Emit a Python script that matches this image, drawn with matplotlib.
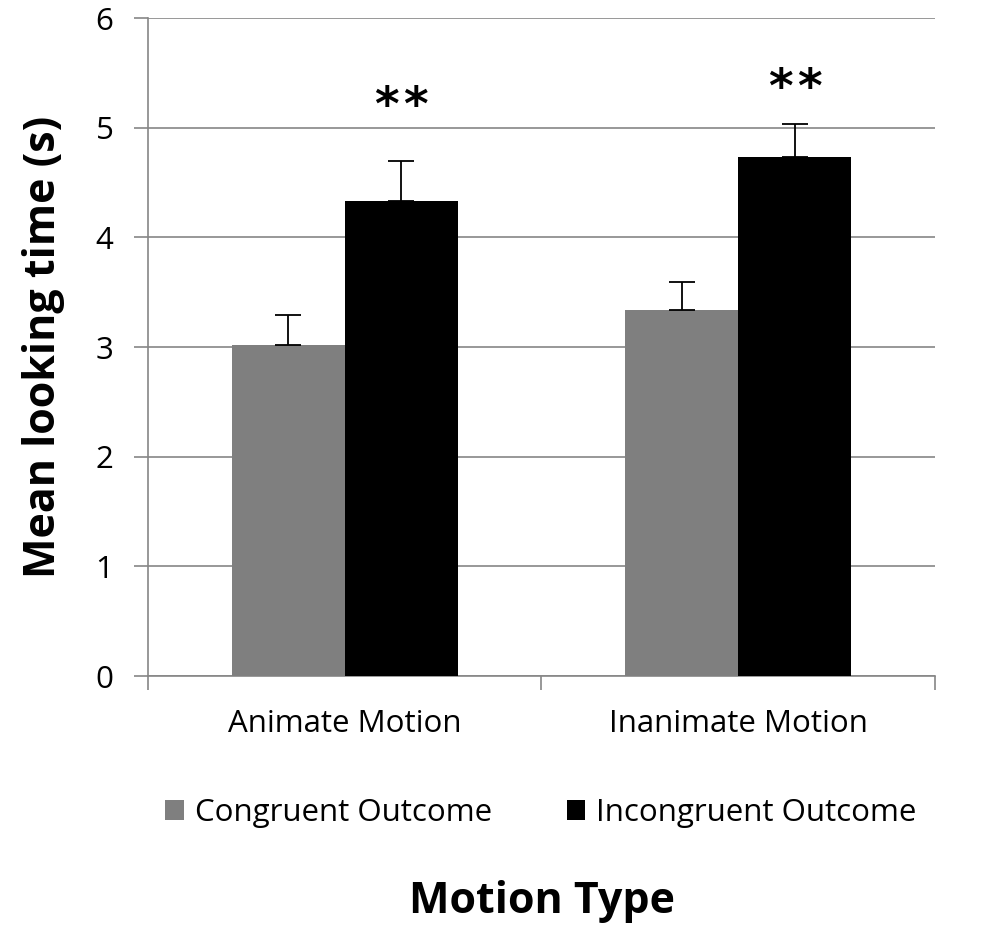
import numpy as np
from matplotlib import pyplot as plt
from matplotlib.patches import Patch

categories = ['Animate Motion', 'Inanimate Motion']
congruent = [3.02, 3.34]
congruent_err = [0.27, 0.25]
incongruent = [4.33, 4.73]
incongruent_err = [0.37, 0.30]
series_names = ['Congruent Outcome', 'Incongruent Outcome']
stars = ['*', '*']
star_y = [5.27, 5.43]

plt.rcParams['font.family'] = ['Open Sans', 'DejaVu Sans']

fig = plt.figure(figsize=(9.85, 9.38), dpi=100)
ax = fig.add_axes([0.1503, 0.2793, 0.7987, 0.7015])

x = np.arange(len(categories))
w = 0.287
gray = '#7f7f7f'
ax.bar(x - w/2, congruent, w, color=gray, zorder=3)
ax.bar(x + w/2, incongruent, w, color='black', zorder=3)
ax.errorbar(x - w/2, congruent, yerr=[np.zeros(2), congruent_err], fmt='none',
            ecolor='black', elinewidth=1.3, capsize=9.5, capthick=1.3, zorder=4)
ax.errorbar(x + w/2, incongruent, yerr=[np.zeros(2), incongruent_err], fmt='none',
            ecolor='black', elinewidth=1.3, capsize=9.5, capthick=1.3, zorder=4)

# significance marks (two separate asterisks each) above the incongruent bars
# the asterisk glyph sits high in its box, so nudge it down a bit
for i in range(len(categories)):
    for dx in (-10.5, 10.5):
        ax.annotate(stars[i], (x[i] + w/2, star_y[i]), xytext=(dx, -6.5),
                    textcoords='offset points', ha='center', va='center',
                    fontsize=34, family='DejaVu Sans', fontweight='bold')

ax.set_xlim(-0.5, 1.5)
ax.set_ylim(0, 6)
ax.set_yticks(range(7))
ax.yaxis.grid(True, color='#868686', linewidth=1.2, zorder=0)
ax.set_xticks([-0.5, 0.5, 1.5])
ax.set_xticklabels([])
ax.set_xticks(x, minor=True)
ax.set_xticklabels(categories, minor=True)
ax.tick_params(axis='x', which='minor', length=0, pad=24, labelsize=22.5)
ax.tick_params(axis='x', which='major', length=10, width=1.2, color='#868686')
ax.tick_params(axis='y', length=10, width=1.2, color='#868686', labelsize=22.5, pad=15)
for s in ['top', 'right']:
    ax.spines[s].set_visible(False)
for s in ['left', 'bottom']:
    ax.spines[s].set_color('#868686')
    ax.spines[s].set_linewidth(1.2)

ax.set_ylabel('Mean looking time (s)', fontsize=31, fontweight='bold', labelpad=22)

handles = [Patch(facecolor=gray), Patch(facecolor='black')]
fig.legend(handles, series_names, loc='center', bbox_to_anchor=(0.549, 0.133),
           ncol=2, frameon=False, fontsize=22.5, handlelength=0.6, handleheight=0.6,
           handletextpad=0.35, columnspacing=2.4)
fig.text(0.550, 0.039, 'Motion Type', ha='center', va='center',
         fontsize=31, fontweight='bold')

fig.savefig('out.png', dpi=100)
